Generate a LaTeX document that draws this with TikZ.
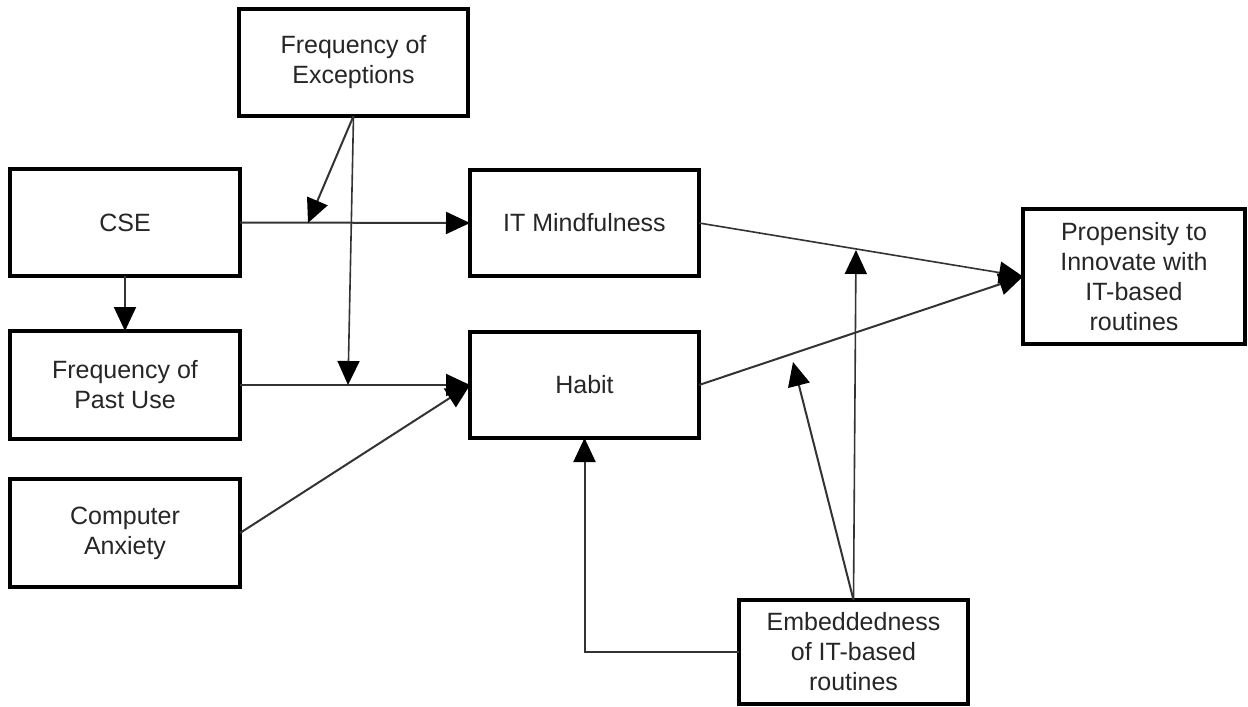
\documentclass[tikz,border=0pt]{standalone}
\usepackage{fontspec}
\setmainfont{Liberation Sans}
\usetikzlibrary{arrows.meta}
\begin{document}
\begin{tikzpicture}[x=0.5pt,y=-0.5pt,
  box/.style={draw=black, line width=2.2pt, align=center, inner sep=0pt, outer sep=0pt,
    font=\fontsize{12.5}{15}\selectfont, text=black!85},
  conn/.style={draw=black!80, line width=1pt, -{Triangle[length=12pt,width=11pt,color=black]}},
  thin/.style={conn, line width=0.8pt},
]
\fill[white] (0,0) rectangle (1248,707);
\useasboundingbox (0,0) rectangle (1248,707);

\node[box, minimum width=114.5pt, minimum height=53.5pt] (foe) at (353.5,62.5) {Frequency of\\Exceptions};
\node[box, minimum width=115pt, minimum height=53.5pt] (cse) at (125,222.5) {CSE};
\node[box, minimum width=115pt, minimum height=54pt] (fpu) at (125,385) {Frequency of\\Past Use};
\node[box, minimum width=115pt, minimum height=54pt] (ca) at (125,533) {Computer\\Anxiety};
\node[box, minimum width=114.5pt, minimum height=53pt] (itm) at (584.5,223) {IT Mindfulness};
\node[box, minimum width=114.5pt, minimum height=53pt] (hab) at (584.5,385) {Habit};
\node[box, minimum width=111pt, minimum height=67.5pt] (prop) at (1134,276.5) {Propensity to\\Innovate with\\IT-based\\routines};
\node[box, minimum width=114.5pt, minimum height=52pt] (emb) at (853.5,652) {Embeddedness\\of IT-based\\routines};

\coordinate (m1) at (308,223);
\coordinate (m2) at (348,385);
\coordinate (m3) at (856,250);
\coordinate (m4) at (793,362);

\draw[conn] (cse.east) -- (itm.west);
\draw[conn] (cse.south) -- (fpu.north);
\draw[conn] (fpu.east) -- (hab.west);
\draw[conn] (ca.east) -- (hab.west);
\draw[conn] (foe.south) -- (m1);
\draw[thin] (foe.south) -- (m2);
\draw[thin] (itm.east) -- (prop.west);
\draw[conn] (hab.east) -- (prop.west);
\draw[thin] (emb.north) -- (m3);
\draw[conn] (emb.north) -- (m4);
\draw[conn] (emb.west) -| (hab.south);
\end{tikzpicture}
\end{document}
